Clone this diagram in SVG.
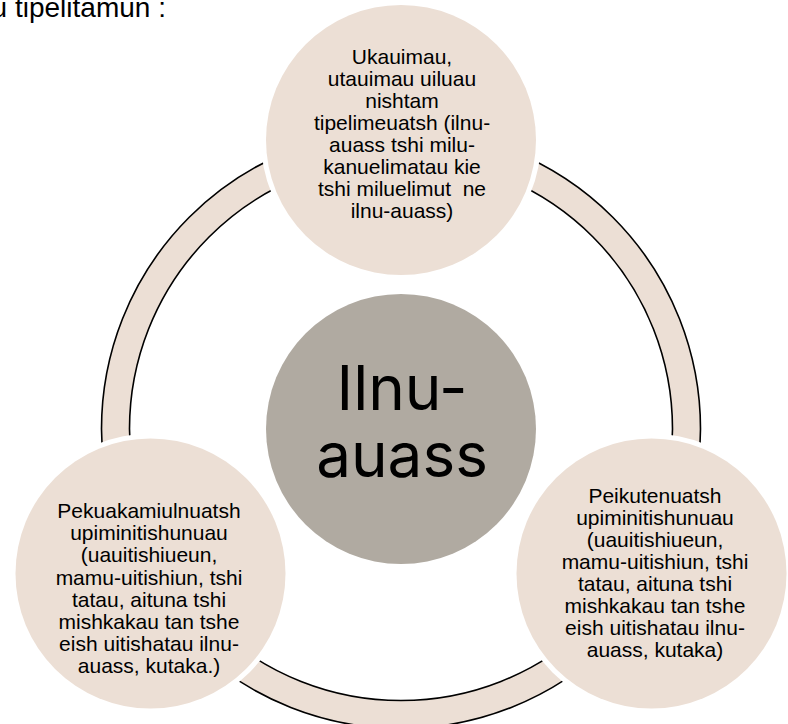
<svg xmlns="http://www.w3.org/2000/svg" width="788" height="724" viewBox="0 0 788 724">
  <style>
    .sat { fill: #ECDFD5; }
    .halo { fill: #FFFFFF; }
    .ring { fill: #ECDFD5; fill-rule: evenodd; stroke: #000000; stroke-width: 1.6; }
    .core { fill: #B0AAA1; }
    .lbl { font-family: "Liberation Sans", Arial, sans-serif; font-size: 21px; fill: #000000; text-anchor: middle; white-space: pre; }
    .big { font-family: Inter, "Noto Sans", sans-serif; font-size: 62px; fill: #000000; text-anchor: middle; }
    .title { font-family: "Liberation Sans", Arial, sans-serif; font-size: 28px; fill: #000000; }
  </style>
  <rect x="0" y="0" width="788" height="724" fill="#FFFFFF"/>
  <text class="title" x="-8.4" y="16.5">u tipelitamun :</text>
  <g id="connectors">
    <path class="ring" d="M 101.5 429 a 299.5 299.5 0 1 0 599 0 a 299.5 299.5 0 1 0 -599 0 Z M 129.5 429 a 271.5 271.5 0 1 0 543 0 a 271.5 271.5 0 1 0 -543 0 Z"/>
  </g>
  <g id="node-center">
    <circle class="core" cx="401" cy="429" r="135"/>
    <text class="big" x="402" y="410">Ilnu-</text>
    <text class="big" x="402" y="477">auass</text>
  </g>
  <g id="node-top">
    <circle class="halo" cx="401" cy="140" r="140"/>
    <circle class="sat" cx="401" cy="140" r="135"/>
    <text class="lbl" x="402" y="64.3">Ukauimau,</text>
    <text class="lbl" x="402" y="86.3">utauimau uiluau</text>
    <text class="lbl" x="402" y="108.3">nishtam</text>
    <text class="lbl" x="402" y="130.3">tipelimeuatsh (ilnu-</text>
    <text class="lbl" x="402" y="152.3">auass tshi milu-</text>
    <text class="lbl" x="402" y="174.3">kanuelimatau kie</text>
    <text class="lbl" x="402" y="196.3">tshi miluelimut  ne</text>
    <text class="lbl" x="402" y="218.3">ilnu-auass)</text>
  </g>
  <g id="node-left">
    <circle class="halo" cx="150.5" cy="573.5" r="140"/>
    <circle class="sat" cx="150.5" cy="573.5" r="135"/>
    <text class="lbl" x="149" y="518">Pekuakamiulnuatsh</text>
    <text class="lbl" x="149" y="540.2">upiminitishunuau</text>
    <text class="lbl" x="149" y="562.4">(uauitishiueun,</text>
    <text class="lbl" x="149" y="584.6">mamu-uitishiun, tshi</text>
    <text class="lbl" x="149" y="606.8">tatau, aituna tshi</text>
    <text class="lbl" x="149" y="629">mishkakau tan tshe</text>
    <text class="lbl" x="149" y="651.2">eish uitishatau ilnu-</text>
    <text class="lbl" x="149" y="673.4">auass, kutaka.)</text>
  </g>
  <g id="node-right">
    <circle class="halo" cx="651.5" cy="573.5" r="140"/>
    <circle class="sat" cx="651.5" cy="573.5" r="135"/>
    <text class="lbl" x="655" y="503.3">Peikutenuatsh</text>
    <text class="lbl" x="655" y="525.2">upiminitishunuau</text>
    <text class="lbl" x="655" y="547.1">(uauitishiueun,</text>
    <text class="lbl" x="655" y="569">mamu-uitishiun, tshi</text>
    <text class="lbl" x="655" y="590.9">tatau, aituna tshi</text>
    <text class="lbl" x="655" y="612.8">mishkakau tan tshe</text>
    <text class="lbl" x="655" y="634.7">eish uitishatau ilnu-</text>
    <text class="lbl" x="655" y="656.6">auass, kutaka)</text>
  </g>
</svg>
